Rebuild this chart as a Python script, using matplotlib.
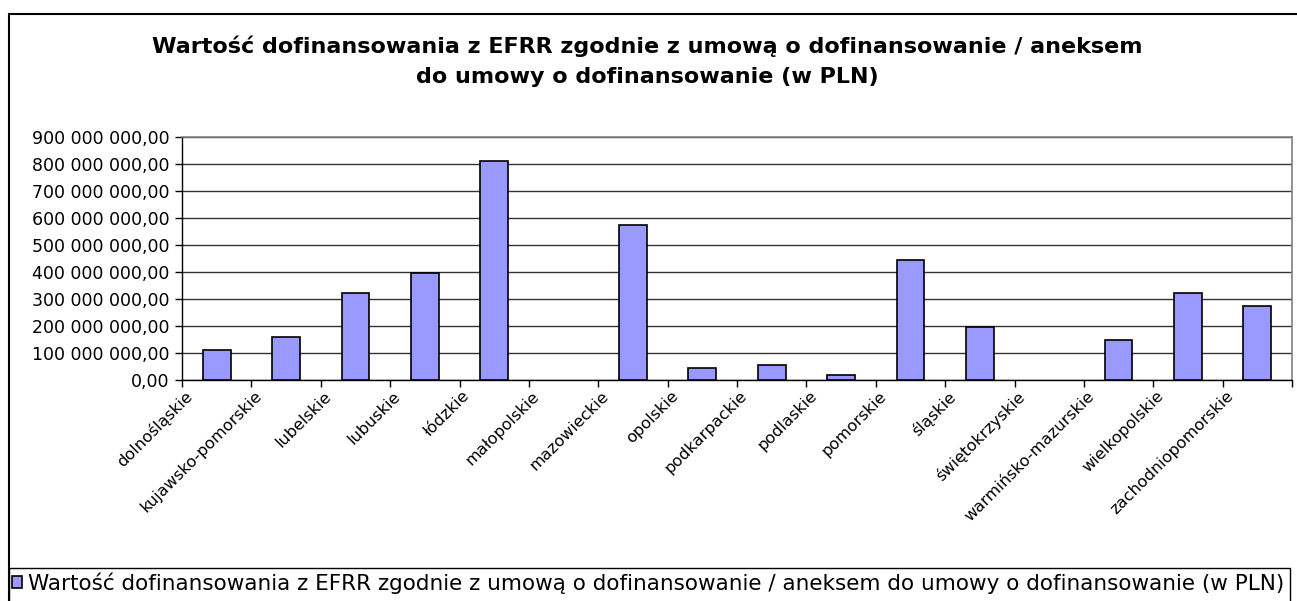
import matplotlib
matplotlib.use('Agg')
import matplotlib.pyplot as plt
from matplotlib.patches import Rectangle
import numpy as np

# wojewodztwa i wartosci (PLN)
regions = ['dolnośląskie', 'kujawsko-pomorskie', 'lubelskie', 'lubuskie', 'łódzkie',
           'małopolskie', 'mazowieckie', 'opolskie', 'podkarpackie', 'podlaskie',
           'pomorskie', 'śląskie', 'świętokrzyskie', 'warmińsko-mazurskie',
           'wielkopolskie', 'zachodniopomorskie']
values = [110e6, 160e6, 322e6, 396e6, 811e6,
          0, 574e6, 44e6, 56e6, 17e6,
          444e6, 196e6, 0, 148e6,
          322e6, 274e6]
yticks = [0, 100e6, 200e6, 300e6, 400e6, 500e6, 600e6, 700e6, 800e6, 900e6]
ytick_labels = ['0,00', '100 000 000,00', '200 000 000,00', '300 000 000,00',
                '400 000 000,00', '500 000 000,00', '600 000 000,00',
                '700 000 000,00', '800 000 000,00', '900 000 000,00']
title = ('Wartość dofinansowania z EFRR zgodnie z umową o dofinansowanie / aneksem\n'
         'do umowy o dofinansowanie (w PLN)')
series_name = ('Wartość dofinansowania z EFRR zgodnie z umową o dofinansowanie / '
               'aneksem do umowy o dofinansowanie (w PLN)')

W, H = 1297, 601
fig = plt.figure(figsize=(W / 100, H / 100), dpi=100)
fig.patch.set_facecolor('white')

ax = fig.add_axes([182 / W, 1 - 380 / H, (1292 - 182) / W, (380 - 137) / H])

x = np.arange(len(regions))
edges = ['black' if v > 0 else 'none' for v in values]
bars = ax.bar(x, values, width=0.4, color='#9999ff', edgecolor=edges,
              linewidth=1.2, zorder=3, label=series_name)

ax.set_xlim(-0.5, len(regions) - 0.5)
ax.set_ylim(0, 900e6)
ax.set_yticks(yticks)
ax.set_yticklabels(ytick_labels, fontsize=12.5, family='DejaVu Sans')
ax.yaxis.grid(True, color='#333333', linewidth=1.0, zorder=0)

# ticki na granicach kategorii
ax.set_xticks(np.arange(len(regions) + 1) - 0.5)
ax.set_xticklabels([])
ax.tick_params(axis='x', length=5, direction='out', width=1)
ax.tick_params(axis='y', length=5, direction='out', width=1, pad=4)
for i, name in enumerate(regions):
    ax.annotate(name, xy=(x[i], 0), xycoords=('data', 'axes fraction'),
                xytext=(-23, -6), textcoords='offset points',
                rotation=45, ha='right', va='top', rotation_mode='anchor',
                fontsize=11.6, family='DejaVu Sans')

for s in ['left', 'bottom']:
    ax.spines[s].set_color('black')
    ax.spines[s].set_linewidth(1.0)
for s in ['top', 'right']:
    ax.spines[s].set_color('#808080')
    ax.spines[s].set_linewidth(1.2)

fig.text(647 / W, 1 - 61 / H, title, ha='center', va='center', fontsize=16,
         fontweight='bold', family='DejaVu Sans', linespacing=1.6)

# ramka wykresu
fig.patches.append(Rectangle((9 / W, -0.1), 1.2, 1 - 14 / H + 0.1,
                             transform=fig.transFigure, fill=False,
                             edgecolor='black', linewidth=1.5))
# ramka legendy
fig.patches.append(Rectangle((9 / W, -0.1), (1290 - 9) / W, 1 - 568 / H + 0.1,
                             transform=fig.transFigure, fill=False,
                             edgecolor='black', linewidth=1.0))

leg = fig.legend(handles=[bars], loc='center left',
                 bbox_to_anchor=(8 / W, 1 - 583 / H), frameon=False,
                 handlelength=0.45, handleheight=0.45,
                 handletextpad=0.3, borderaxespad=0, borderpad=0.2,
                 prop={'family': 'DejaVu Sans', 'size': 15.5})

fig.savefig('out.png', dpi=100)
